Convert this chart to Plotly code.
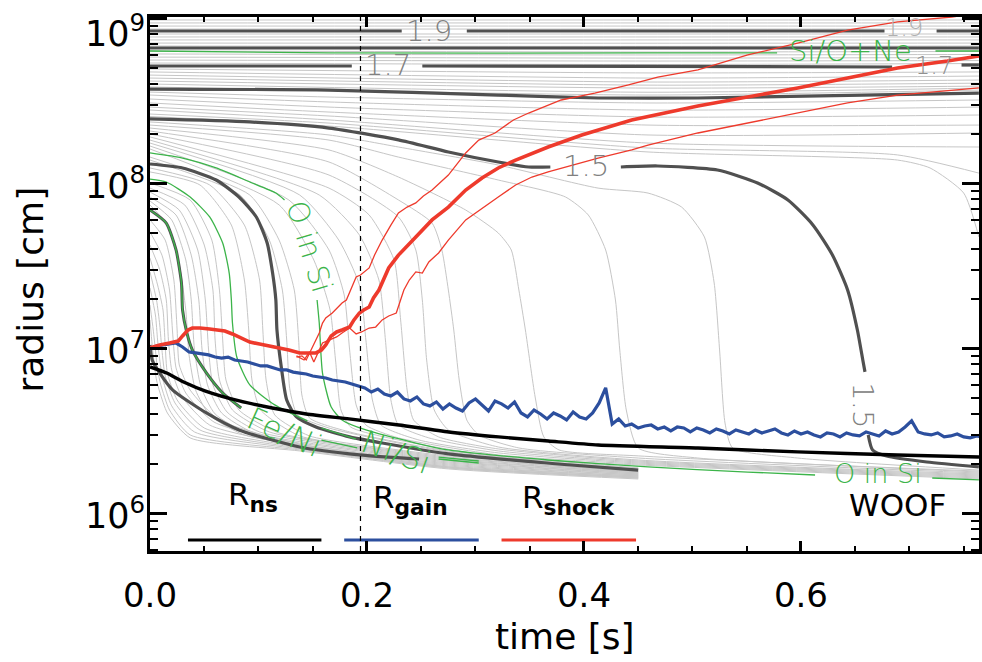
import plotly.graph_objects as go

# ------------------------------------------------------------------
# axis limits (time in s, log10 of radius in cm)
T_RANGE = [0.0, 0.7641]
LOGR_RANGE = [5.7715, 9.008]

# ------------------------------------------------------------------
# outer mass shells that barely move: log10 r at the times in OUTER_T
OUTER_T = [0.0, 0.459, 0.764]
OUTER_SHELLS = [
    [8.990, 8.990, 8.990], [8.972, 8.972, 8.972], [8.953, 8.953, 8.953],
    [8.935, 8.935, 8.935], [8.905, 8.905, 8.905], [8.887, 8.887, 8.887],
    [8.869, 8.869, 8.869], [8.850, 8.849, 8.850], [8.832, 8.830, 8.832],
    [8.802, 8.796, 8.799], [8.784, 8.778, 8.781], [8.765, 8.759, 8.762],
    [8.747, 8.741, 8.744], [8.729, 8.720, 8.726], [8.693, 8.669, 8.675],
    [8.675, 8.638, 8.650], [8.656, 8.614, 8.626], [8.638, 8.595, 8.607],
    [8.620, 8.577, 8.589], [8.602, 8.552, 8.577], [8.584, 8.535, 8.565],
]

# shells between the 1.6 and 1.5 Msun lines: log10 r at MID_T
MID_T = [0.0, 0.165, 0.459, 0.764]
MID_SHELLS = [
    [8.553, 8.523, 8.487, 8.505], [8.535, 8.493, 8.444, 8.462],
    [8.511, 8.462, 8.402, 8.414], [8.487, 8.432, 8.353, 8.353],
    [8.462, 8.408, 8.293, 8.305], [8.444, 8.384, 8.244, 8.220],
]

# shells that start falling near the end of the run: (t, log10 r)
EDGE_SHELLS = [
    [(0, 8.420), (0.165, 8.365), (0.459, 8.214), (0.689, 8.172), (0.764, 8.062)],
    [(0, 8.405), (0.165, 8.347), (0.459, 8.190), (0.689, 8.141), (0.719, 8.093),
     (0.750, 7.941), (0.764, 7.675)],
]

# shells that collapse onto the proto-neutron star: (t, log10 r)
INNER_SHELLS = [
    [(0, 8.372), (0.165, 8.293), (0.229, 8.220), (0.321, 8.111), (0.413, 7.971), (0.459, 7.941),
     (0.490, 7.856), (0.511, 7.675), (0.520, 7.396), (0.525, 6.990), (0.530, 6.547),
     (0.537, 6.396), (0.597, 6.335), (0.764, 6.262)],
    [(0, 8.353), (0.165, 8.262), (0.229, 8.159), (0.321, 8.020), (0.383, 7.917), (0.404, 7.808),
     (0.420, 7.596), (0.429, 7.293), (0.433, 6.990), (0.439, 6.626), (0.450, 6.396),
     (0.505, 6.335), (0.764, 6.256)],
    [(0, 8.335), (0.165, 8.202), (0.229, 8.038), (0.291, 7.838), (0.321, 7.699), (0.333, 7.596),
     (0.340, 7.353), (0.346, 7.111), (0.355, 6.705), (0.363, 6.463), (0.377, 6.384),
     (0.450, 6.348), (0.764, 6.250)],
    [(0, 8.317), (0.165, 8.129), (0.229, 7.899), (0.260, 7.759), (0.269, 7.596), (0.275, 7.353),
     (0.280, 7.111), (0.285, 6.808), (0.292, 6.565), (0.303, 6.475), (0.340, 6.396),
     (0.450, 6.335), (0.764, 6.244)],
    [(0, 8.299), (0.165, 8.050), (0.229, 7.796), (0.245, 7.596), (0.251, 7.293), (0.255, 6.929),
     (0.262, 6.626), (0.275, 6.505), (0.321, 6.402), (0.450, 6.323), (0.764, 6.238)],
    [(0, 8.281), (0.165, 7.971), (0.202, 7.808), (0.225, 7.535), (0.231, 7.172), (0.237, 6.747),
     (0.243, 6.565), (0.266, 6.463), (0.321, 6.390), (0.450, 6.317), (0.764, 6.232)],
    [(0, 8.262), (0.156, 7.929), (0.193, 7.687), (0.211, 7.414), (0.217, 7.050), (0.222, 6.687),
     (0.229, 6.535), (0.257, 6.457), (0.321, 6.378), (0.450, 6.311), (0.764, 6.226)],
    [(0, 8.244), (0.138, 7.929), (0.174, 7.656), (0.193, 7.384), (0.199, 7.050), (0.205, 6.687),
     (0.213, 6.535), (0.248, 6.444), (0.321, 6.366), (0.450, 6.305), (0.764, 6.220)],
    [(0, 8.226), (0.128, 7.899), (0.165, 7.596), (0.179, 7.323), (0.184, 6.990), (0.190, 6.657),
     (0.199, 6.535), (0.229, 6.457), (0.321, 6.354), (0.450, 6.299), (0.764, 6.214)],
    [(0, 8.208), (0.119, 7.869), (0.151, 7.535), (0.166, 7.232), (0.171, 6.929), (0.176, 6.626),
     (0.185, 6.523), (0.229, 6.444), (0.321, 6.341), (0.450, 6.293), (0.764, 6.208)],
    [(0, 8.159), (0.092, 7.929), (0.119, 7.656), (0.133, 7.353), (0.137, 7.050), (0.140, 6.717),
     (0.147, 6.578), (0.184, 6.493), (0.275, 6.378), (0.450, 6.275)],
    [(0, 8.141), (0.083, 7.929), (0.110, 7.656), (0.122, 7.353), (0.126, 7.050), (0.129, 6.747),
     (0.136, 6.596), (0.165, 6.517), (0.275, 6.372), (0.450, 6.269)],
    [(0, 8.093), (0.055, 7.990), (0.087, 7.747), (0.101, 7.414), (0.104, 7.111), (0.107, 6.808),
     (0.115, 6.596), (0.147, 6.469), (0.229, 6.384), (0.275, 6.348), (0.450, 6.256)],
    [(0, 8.069), (0.046, 7.990), (0.075, 7.747), (0.087, 7.414), (0.091, 7.111), (0.094, 6.808),
     (0.102, 6.626), (0.138, 6.469), (0.229, 6.378), (0.275, 6.341), (0.450, 6.250)],
    [(0, 8.002), (0.037, 7.899), (0.057, 7.656), (0.064, 7.353), (0.067, 7.050), (0.070, 6.808),
     (0.082, 6.626), (0.119, 6.487), (0.229, 6.372), (0.275, 6.335), (0.450, 6.250)],
    [(0, 7.971), (0.032, 7.869), (0.050, 7.626), (0.058, 7.353), (0.060, 7.050), (0.064, 6.808),
     (0.076, 6.626), (0.110, 6.493), (0.229, 6.366), (0.275, 6.329), (0.450, 6.244)],
    [(0, 7.947), (0.027, 7.838), (0.044, 7.596), (0.051, 7.293), (0.054, 6.990), (0.058, 6.778),
     (0.071, 6.614), (0.101, 6.493), (0.229, 6.360), (0.275, 6.323), (0.450, 6.244)],
    [(0, 7.917), (0.024, 7.808), (0.038, 7.565), (0.045, 7.293), (0.048, 6.990), (0.053, 6.778),
     (0.066, 6.608), (0.096, 6.487), (0.229, 6.354), (0.275, 6.317), (0.450, 6.238)],
    [(0, 7.893), (0.020, 7.778), (0.033, 7.535), (0.038, 7.293), (0.041, 6.990), (0.047, 6.766),
     (0.060, 6.602), (0.092, 6.481), (0.229, 6.348), (0.275, 6.311), (0.450, 6.238)],
    [(0, 7.869), (0.016, 7.747), (0.027, 7.505), (0.033, 7.232), (0.036, 6.960), (0.042, 6.747),
     (0.055, 6.596), (0.087, 6.475), (0.229, 6.341), (0.275, 6.305), (0.450, 6.232)],
    [(0, 7.778), (0.014, 7.656), (0.022, 7.414), (0.025, 7.111), (0.027, 6.899), (0.037, 6.747),
     (0.064, 6.565), (0.138, 6.420), (0.275, 6.299), (0.450, 6.232)],
    [(0, 7.705), (0.011, 7.565), (0.018, 7.353), (0.021, 7.081), (0.024, 6.881), (0.033, 6.729),
     (0.059, 6.553), (0.138, 6.414), (0.275, 6.293), (0.450, 6.226)],
    [(0, 7.626), (0.009, 7.475), (0.015, 7.293), (0.017, 7.050), (0.020, 6.869), (0.029, 6.711),
     (0.055, 6.535), (0.138, 6.408), (0.275, 6.287), (0.450, 6.226)],
    [(0, 7.547), (0.007, 7.384), (0.012, 7.232), (0.014, 7.020), (0.016, 6.850), (0.025, 6.687),
     (0.050, 6.517), (0.138, 6.402), (0.275, 6.281), (0.450, 6.220)],
    [(0, 7.463), (0.006, 7.293), (0.009, 7.141), (0.011, 6.990), (0.014, 6.832), (0.023, 6.669),
     (0.046, 6.505), (0.138, 6.396), (0.275, 6.281), (0.450, 6.220)],
    [(0, 7.366), (0.005, 7.202), (0.007, 7.050), (0.009, 6.929), (0.012, 6.808), (0.020, 6.651),
     (0.041, 6.493), (0.138, 6.390), (0.275, 6.275), (0.450, 6.214)],
    [(0, 7.262), (0.003, 7.111), (0.005, 6.990), (0.007, 6.869), (0.010, 6.778), (0.018, 6.626),
     (0.037, 6.475), (0.138, 6.384), (0.275, 6.275), (0.450, 6.214)],
    [(0, 7.172), (0.002, 7.020), (0.004, 6.899), (0.006, 6.808), (0.009, 6.735), (0.016, 6.608),
     (0.037, 6.457), (0.138, 6.378), (0.275, 6.269), (0.450, 6.208)],
]

# labelled mass shells (Msun), split where the label sits: (t, log10 r)
MASS_SHELLS = {
    "1.9": [[(0, 8.923), (0.232, 8.923)], [(0.292, 8.923), (0.677, 8.923)],
            [(0.725, 8.923), (0.764, 8.923)]],
    "1.8": [[(0, 8.820), (0.764, 8.820)]],
    "1.7": [[(0, 8.711), (0.186, 8.711)], [(0.251, 8.711), (0.684, 8.705)],
            [(0.748, 8.717), (0.764, 8.717)]],
    "1.6": [[(0, 8.571), (0.165, 8.565), (0.321, 8.535), (0.413, 8.517), (0.505, 8.517),
             (0.764, 8.547)]],
    "1.5": [[(0, 8.390), (0.092, 8.372), (0.165, 8.335), (0.229, 8.263), (0.275, 8.190),
             (0.321, 8.129), (0.349, 8.099), (0.369, 8.099)],
            [(0.434, 8.099), (0.468, 8.105), (0.523, 8.081), (0.560, 8.002), (0.588, 7.899),
             (0.611, 7.748), (0.629, 7.566), (0.643, 7.354), (0.652, 7.111), (0.657, 6.929),
             (0.659, 6.857)],
            [(0.662, 6.475), (0.666, 6.384), (0.679, 6.347), (0.716, 6.311), (0.764, 6.281)]],
    "1.4": [[(0, 8.117), (0.030, 8.093), (0.061, 8.020), (0.082, 7.917), (0.098, 7.796),
             (0.108, 7.638), (0.113, 7.456), (0.116, 7.293), (0.117, 7.111), (0.121, 6.887),
             (0.126, 6.687), (0.135, 6.584), (0.153, 6.523), (0.184, 6.463), (0.214, 6.426),
             (0.275, 6.360), (0.376, 6.299), (0.450, 6.262)]],
    "1.3": [[(0, 7.020), (0.002, 6.929), (0.009, 6.850), (0.021, 6.747), (0.052, 6.608),
             (0.082, 6.505), (0.138, 6.402), (0.193, 6.354), (0.248, 6.329)]],
}

# composition interfaces: (t, log10 r), split where labels sit
SI_ONE = [[(0, 8.802), (0.165, 8.790), (0.459, 8.790), (0.578, 8.790)],
          [(0.724, 8.802), (0.764, 8.802)]]
O_IN_SI = [[(0, 8.184), (0.030, 8.153), (0.061, 8.093), (0.092, 8.008), (0.116, 7.941),
            (0.124, 7.899)],
           [(0.154, 7.293), (0.156, 7.153), (0.159, 6.850), (0.167, 6.644), (0.177, 6.566),
            (0.199, 6.505), (0.245, 6.426), (0.275, 6.384), (0.367, 6.323), (0.459, 6.281),
            (0.551, 6.250), (0.613, 6.232)],
           [(0.721, 6.214), (0.764, 6.202)]]
NI_SI = [[(0, 8.026), (0.015, 8.008), (0.037, 7.917), (0.055, 7.796), (0.067, 7.638),
          (0.073, 7.456), (0.075, 7.293), (0.076, 7.153), (0.080, 6.947), (0.092, 6.778),
          (0.115, 6.657), (0.145, 6.560)],
         [(0.158, 6.517), (0.190, 6.450)],
         [(0.266, 6.341), (0.303, 6.317)]]
FE_NI = [[(0, 7.838), (0.015, 7.759), (0.024, 7.596), (0.029, 7.396), (0.030, 7.232),
          (0.034, 7.093), (0.039, 6.990), (0.052, 6.851), (0.067, 6.729), (0.084, 6.638)],
         [(0.158, 6.444), (0.191, 6.396)],
         [(0.266, 6.329), (0.303, 6.305)]]

# neutron-star radius: (t, log10 r)
R_NS = [(0, 6.887), (0.0153, 6.850), (0.031, 6.796), (0.0512, 6.741), (0.0824, 6.681),
        (0.1127, 6.638), (0.144, 6.602), (0.1835, 6.572), (0.2294, 6.535), (0.2754, 6.493),
        (0.3213, 6.463), (0.3672, 6.438), (0.4131, 6.414), (0.505, 6.396), (0.5969, 6.372),
        (0.6888, 6.353), (0.7641, 6.341)]

# gain radius, sampled every 6 ms: log10 r
GAIN_DT = 0.006
R_GAIN = [
    6.996, 7.014, 7.020, 7.026, 7.032, 7.008, 6.978, 6.972, 6.966, 6.960,
    6.947, 6.941, 6.947, 6.929, 6.923, 6.917, 6.905, 6.893, 6.893, 6.881,
    6.869, 6.869, 6.856, 6.850, 6.844, 6.832, 6.826, 6.820, 6.808, 6.802,
    6.796, 6.784,
    6.772, 6.760, 6.735, 6.753, 6.723, 6.711, 6.735, 6.693, 6.681, 6.705,
    6.663, 6.651, 6.675, 6.632, 6.663, 6.638, 6.620, 6.669, 6.693, 6.657,
    6.620, 6.681, 6.663, 6.638, 6.675, 6.608, 6.584, 6.626, 6.602, 6.572,
    6.608, 6.590, 6.566, 6.614, 6.584, 6.572, 6.608, 6.669, 6.760, 6.541,
    6.572, 6.529, 6.541, 6.517, 6.529, 6.535, 6.511, 6.523, 6.499, 6.523,
    6.517, 6.493, 6.517, 6.505, 6.487, 6.511, 6.499, 6.481, 6.505, 6.493,
    6.481, 6.505, 6.487, 6.499, 6.511, 6.487, 6.475, 6.499, 6.481, 6.493,
    6.475, 6.463, 6.487, 6.481, 6.463, 6.487, 6.475, 6.469, 6.493, 6.481,
    6.469, 6.499, 6.481, 6.493, 6.523, 6.560, 6.493, 6.481, 6.475, 6.487,
    6.463, 6.469, 6.481, 6.463, 6.457, 6.469, 6.463,
]

# shock radius: angle average, maximum and minimum (t, log10 r)
R_SHOCK = [(0, 7.002), (0.009, 7.020), (0.018, 7.032), (0.026, 7.044), (0.030, 7.075),
           (0.035, 7.111), (0.039, 7.123), (0.046, 7.123), (0.055, 7.117), (0.061, 7.111),
           (0.069, 7.105), (0.076, 7.087), (0.082, 7.069), (0.092, 7.038), (0.101, 7.026),
           (0.110, 7.014), (0.122, 7.002), (0.128, 6.990), (0.138, 6.972), (0.147, 6.972),
           (0.153, 6.972), (0.158, 6.990), (0.162, 7.020), (0.167, 7.075), (0.172, 7.099),
           (0.177, 7.111), (0.184, 7.129), (0.188, 7.172), (0.193, 7.214), (0.197, 7.232),
           (0.202, 7.250), (0.206, 7.305), (0.211, 7.353), (0.220, 7.487), (0.229, 7.565),
           (0.245, 7.675), (0.260, 7.778), (0.275, 7.856), (0.291, 7.959), (0.306, 8.032),
           (0.321, 8.093), (0.337, 8.141), (0.367, 8.220), (0.398, 8.293), (0.444, 8.384),
           (0.505, 8.469), (0.551, 8.523), (0.597, 8.578), (0.643, 8.638), (0.689, 8.699),
           (0.735, 8.741), (0.764, 8.772)]
R_SHOCK_MAX = [(0.135, 6.947), (0.140, 6.954), (0.144, 6.929), (0.147, 6.972), (0.150, 7.008),
               (0.153, 7.050), (0.156, 7.093), (0.159, 7.153), (0.162, 7.184), (0.168, 7.214),
               (0.172, 7.244), (0.177, 7.275), (0.181, 7.293), (0.185, 7.353), (0.190, 7.432),
               (0.194, 7.444), (0.198, 7.463), (0.202, 7.487), (0.207, 7.565), (0.214, 7.656),
               (0.222, 7.747), (0.229, 7.820), (0.237, 7.856), (0.245, 7.881), (0.252, 7.923),
               (0.260, 7.959), (0.275, 8.050), (0.291, 8.184), (0.303, 8.262), (0.318, 8.305),
               (0.335, 8.384), (0.349, 8.426), (0.379, 8.505), (0.410, 8.547), (0.441, 8.596),
               (0.468, 8.644), (0.505, 8.687), (0.551, 8.778), (0.597, 8.850), (0.643, 8.929),
               (0.689, 8.978), (0.739, 9.008), (0.764, 9.030)]
R_SHOCK_MIN = [(0.135, 6.954), (0.142, 6.929), (0.147, 6.978), (0.151, 6.917), (0.156, 6.990),
               (0.159, 7.032), (0.165, 7.050), (0.172, 7.069), (0.177, 7.093), (0.184, 7.123),
               (0.190, 7.087), (0.195, 7.099), (0.202, 7.123), (0.208, 7.129), (0.214, 7.172),
               (0.220, 7.196), (0.227, 7.214), (0.231, 7.293), (0.234, 7.353), (0.239, 7.414),
               (0.245, 7.463), (0.251, 7.456), (0.257, 7.523), (0.266, 7.578), (0.275, 7.656),
               (0.291, 7.778), (0.306, 7.850), (0.321, 7.917), (0.337, 7.990), (0.352, 8.038),
               (0.367, 8.069), (0.383, 8.099), (0.413, 8.153), (0.444, 8.202), (0.459, 8.232),
               (0.505, 8.305), (0.551, 8.366), (0.597, 8.426), (0.643, 8.487), (0.689, 8.535),
               (0.764, 8.578)]

T_MARK = 0.194   # dotted reference time

# ------------------------------------------------------------------
FONT = "DejaVu Sans"
GREY = "#c6c6c6"
DARK = "#505050"
GREEN = "#3cb44a"
RED = "#ee3a2c"
BLUE = "#2c4f9e"

fig = go.Figure()


def add_path(pts, color, width, shape="spline", smoothing=0.6):
    fig.add_trace(go.Scatter(
        x=[p[0] for p in pts], y=[10 ** p[1] for p in pts], mode="lines",
        line=dict(color=color, width=width, shape=shape, smoothing=smoothing),
        hoverinfo="skip", showlegend=False))


for row in OUTER_SHELLS:
    add_path(list(zip(OUTER_T, row)), GREY, 1)
for row in MID_SHELLS:
    add_path(list(zip(MID_T, row)), GREY, 1)
for pts in EDGE_SHELLS + INNER_SHELLS:
    add_path(pts, GREY, 1)

for name, segs in MASS_SHELLS.items():
    for seg in segs:
        add_path(seg, DARK, 3.2)

# the Fe/Ni interface coincides with a dark shell near the centre
add_path(FE_NI[0], DARK, 3.0)
for line in (SI_ONE, O_IN_SI, NI_SI, FE_NI):
    for seg in line:
        add_path(seg, GREEN, 1.3)

add_path(R_NS, "black", 3.4)
fig.add_trace(go.Scatter(
    x=[round(i * GAIN_DT, 3) for i in range(len(R_GAIN))], y=[10 ** v for v in R_GAIN],
    mode="lines", line=dict(color=BLUE, width=3.2), hoverinfo="skip", showlegend=False))
add_path(R_SHOCK_MAX, RED, 1.3, shape="linear")
add_path(R_SHOCK_MIN, RED, 1.3, shape="linear")
add_path(R_SHOCK, RED, 3.6, shape="linear")

fig.add_shape(type="line", x0=T_MARK, x1=T_MARK, y0=0, y1=1, xref="x", yref="paper",
              line=dict(color="black", width=1.2, dash="5px,5px"))

# legend keys drawn inside the frame
for col, t0, t1 in (("black", 0.035, 0.158), (BLUE, 0.179, 0.303), (RED, 0.324, 0.448)):
    fig.add_trace(go.Scatter(x=[t0, t1], y=[10 ** 5.838] * 2, mode="lines",
                             line=dict(color=col, width=3), hoverinfo="skip", showlegend=False))

ann = []


def label(t, lr, text, size, color, angle=0, weight=400, family=FONT):
    ann.append(dict(x=t, y=lr, xref="x", yref="y", text=text, showarrow=False,
                    textangle=angle, xanchor="center", yanchor="middle",
                    font=dict(family=family, size=size, color=color, weight=weight)))


THIN = 200
label(0.257, 8.923, "1.9", 29, "#808080", weight=THIN)
label(0.695, 8.940, "1.9", 24, "#b0b0b0", weight=THIN)
label(0.219, 8.717, "1.7", 29, "#808080", weight=THIN)
label(0.723, 8.711, "1.7", 24, "#909090", weight=THIN)
label(0.646, 8.800, "Si/O+Ne", 29, GREEN, weight=THIN)
label(0.402, 8.105, "1.5", 29, "#808080", weight=THIN)
label(0.657, 6.656, "1.5", 29, "#808080", angle=90, weight=THIN)
label(0.147, 7.614, "O in Si", 29, GREEN, angle=73, weight=THIN)
label(0.671, 6.244, "O in Si", 27, GREEN, weight=THIN)
label(0.124, 6.493, "Fe/Ni", 31, GREEN, angle=24, weight=THIN)
label(0.227, 6.372, "Ni/Si", 31, GREEN, angle=20, weight=THIN)
label(0.689, 6.052, "WOOF", 31, "black")
label(0.095, 6.099, "R<sub><b>ns</b></sub>", 31, "black")
label(0.240, 6.081, "R<sub><b>gain</b></sub>", 31, "black")
label(0.386, 6.081, "R<sub><b>shock</b></sub>", 31, "black")

# decade labels of the radius axis
for e, shift in ((6, 0), (7, 0), (8, 0), (9, -13)):
    ann.append(dict(x=0, y=e, xref="paper", yref="y", text="10<sup>%d</sup>" % e,
                    showarrow=False, xanchor="right", yanchor="middle", xshift=-3,
                    yshift=shift, font=dict(family=FONT, size=35, color="black")))

ann.append(dict(x=0.5, y=-0.16, xref="paper", yref="paper", text="time [s]",
                xanchor="center", yanchor="middle", showarrow=False,
                font=dict(family=FONT, size=36, color="black")))
ann.append(dict(x=-0.144, y=0.489, xref="paper", yref="paper", text="radius [cm]",
                xanchor="center", yanchor="middle", textangle=-90, showarrow=False,
                font=dict(family=FONT, size=36, color="black")))

y_minor = [k * 10 ** e for e in range(5, 9) for k in range(2, 10)]
x_minor = [0.05, 0.10, 0.15, 0.25, 0.30, 0.35, 0.45, 0.50, 0.55, 0.65, 0.70, 0.75]

fig.update_layout(
    width=982, height=662, margin=dict(l=150, r=0, t=17, b=111),
    paper_bgcolor="white", plot_bgcolor="white", showlegend=False,
    annotations=ann,
    xaxis=dict(range=T_RANGE, showgrid=False, zeroline=False, showline=True,
               linecolor="black", linewidth=3, mirror="ticks", ticks="inside",
               ticklen=10, tickwidth=2.5, tickcolor="black",
               tickvals=[0, 0.2, 0.4, 0.6], ticktext=["0.0", "0.2", "0.4", "0.6"],
               tickfont=dict(family=FONT, size=34, color="black"), ticklabelstandoff=12,
               minor=dict(tickvals=x_minor, ticks="inside", ticklen=5, tickwidth=2,
                          tickcolor="black")),
    yaxis=dict(type="log", range=LOGR_RANGE, showgrid=False, zeroline=False, showline=True,
               linecolor="black", linewidth=3, mirror="ticks", ticks="inside",
               ticklen=17, tickwidth=3, tickcolor="black",
               tickvals=[1e6, 1e7, 1e8, 1e9], showticklabels=False,
               minor=dict(tickvals=y_minor, ticks="inside", ticklen=8, tickwidth=2,
                          tickcolor="black")),
)

fig.write_html("out.html")
